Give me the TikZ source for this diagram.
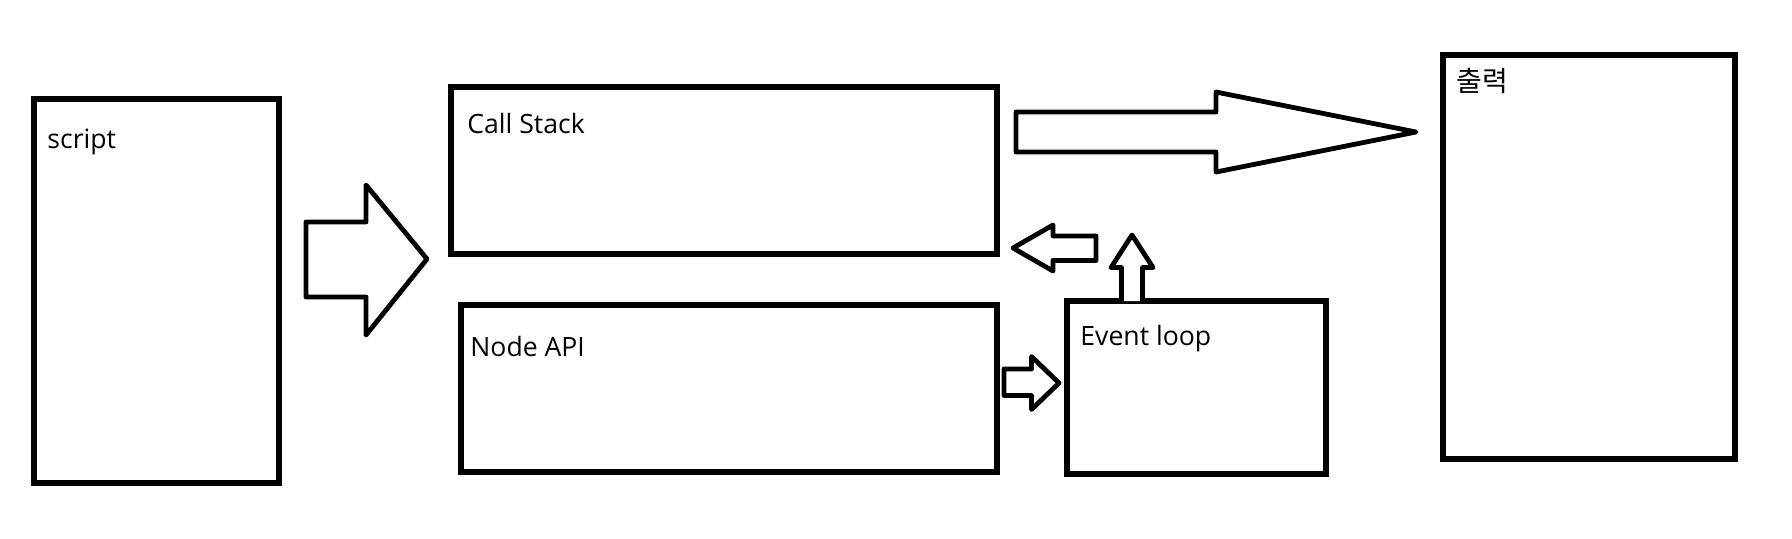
\documentclass[tikz,border=0pt]{standalone}
\usepackage{fontspec}
\setmainfont{Open Sans}
\newfontfamily\krfont{Noto Sans CJK KR}
\usetikzlibrary{fit}
\begin{document}
\begin{tikzpicture}[x=0.5pt,y=-0.5pt,
  box/.style={draw=black,line width=2.6pt,inner sep=0pt,fill=none},
  blockarrow/.style={draw=black,line width=2.4pt,line join=round,fill=white},
  lbl/.style={anchor=base west,inner sep=0pt,font=\fontsize{13.3}{15}\selectfont}]
\useasboundingbox[fill=white] (0,0) rectangle (1792,538);
% boxes
\node[box,fit={(34,99) (279,483)}] (script) {};
\node[box,fit={(451,87) (997,254)}] (callstack) {};
\node[box,fit={(461,305) (997,472)}] (nodeapi) {};
\node[box,fit={(1067,301) (1326,474)}] (eventloop) {};
\node[box,fit={(1443,55) (1735,459)}] (output) {};
% labels
\node[lbl] (scriptlbl) at (47,148) {script};
\node[lbl] (calllbl) at (467,133) {Call Stack};
\node[lbl] (apilbl) at (470,356) {Node API};
\node[lbl] (looplbl) at (1080,345.5) {Event loop};
\node[lbl,font=\fontsize{14}{16}\selectfont] (outlbl) at (1456,91) {\krfont 출력};
% block arrows
\draw[blockarrow] (306,222) -- (366,222) -- (366,185) -- (427,259) -- (366,335) -- (366,297) -- (306,297) -- cycle;
\draw[blockarrow] (1016,112) -- (1216,112) -- (1216,92) -- (1416,132) -- (1216,172) -- (1216,152) -- (1016,152) -- cycle;
\draw[blockarrow] (1096,236) -- (1053,236) -- (1053,225) -- (1013,248) -- (1053,271) -- (1053,260.5) -- (1096,260.5) -- cycle;
\draw[blockarrow] (1121.5,301) -- (1121.5,267.5) -- (1111,267.5) -- (1132,235) -- (1153,267.5) -- (1142.5,267.5) -- (1142.5,301);
\draw[blockarrow] (1004,369) -- (1031.5,369) -- (1031.5,356.5) -- (1059,383) -- (1031.5,409.5) -- (1031.5,395.5) -- (1004,395.5) -- cycle;
\end{tikzpicture}
\end{document}
